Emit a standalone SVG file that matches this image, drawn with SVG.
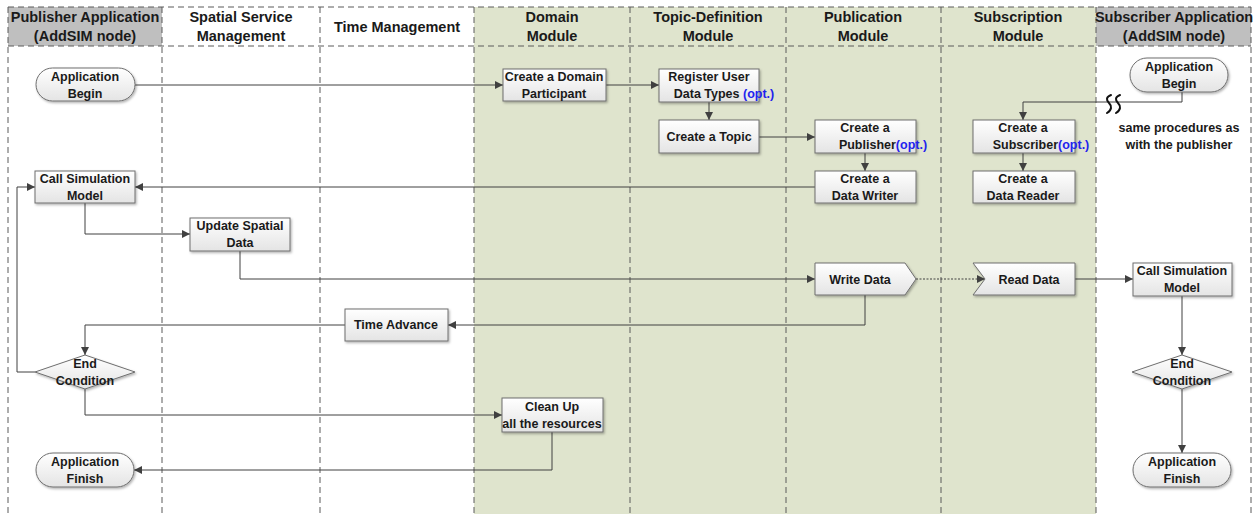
<svg xmlns="http://www.w3.org/2000/svg" width="1255" height="514" viewBox="0 0 1255 514">
  <defs>
    <linearGradient id="boxFill" x1="0" y1="0" x2="0" y2="1">
      <stop offset="0" stop-color="#ffffff"/>
      <stop offset="1" stop-color="#e4e4e4"/>
    </linearGradient>
    <filter id="shadow" x="-10%" y="-20%" width="125%" height="150%">
      <feDropShadow dx="1.2" dy="1.5" stdDeviation="0.8" flood-color="#000" flood-opacity="0.3"/>
    </filter>
    <marker id="arrow" viewBox="0 0 10 10" refX="10" refY="5" markerWidth="8" markerHeight="8" markerUnits="userSpaceOnUse" orient="auto">
      <path d="M0,0 L10,5 L0,10 Z" fill="#404040"/>
    </marker>
  </defs>
  <style>
    .lane-green { fill: #dfe4cd; }
    .head-grey { fill: #bfbfbf; }
    .sep { stroke: #5a5a5a; stroke-width: 1; stroke-dasharray: 6 4; fill: none; }
    .head { font-family: "Liberation Sans", Arial, sans-serif; font-weight: bold; font-size: 14.5px; fill: #1a1a1a; text-anchor: middle; }
    .box { fill: url(#boxFill); stroke: #6e6e6e; stroke-width: 1; filter: url(#shadow); }
    .lbl { font-family: "Liberation Sans", Arial, sans-serif; font-weight: bold; font-size: 12.5px; fill: #1a1a1a; text-anchor: middle; }
    .opt { fill: #2222ee; }
    .conn { stroke: #404040; stroke-width: 1; fill: none; }
    .arr { marker-end: url(#arrow); }
    .dotted { stroke-dasharray: 2 1.5; }
    .brk { stroke: #111111; stroke-width: 2; fill: none; stroke-linecap: round; }
  </style>

  <!-- swimlane backgrounds -->
  <g id="lanes">
    <rect x="0" y="0" width="1255" height="514" fill="#ffffff"/>
    <rect class="lane-green" x="474" y="7" width="622" height="507"/>
    <rect class="head-grey" x="8" y="7" width="154" height="39"/>
    <rect class="head-grey" x="1096" y="7" width="155" height="39"/>
    <line class="sep" x1="8" y1="7" x2="1251" y2="7"/>
    <line class="sep" x1="8" y1="46" x2="1251" y2="46"/>
    <line class="sep" x1="8" y1="7" x2="8" y2="514"/>
    <line class="sep" x1="162" y1="7" x2="162" y2="514"/>
    <line class="sep" x1="320" y1="7" x2="320" y2="514"/>
    <line class="sep" x1="474" y1="7" x2="474" y2="514"/>
    <line class="sep" x1="630" y1="7" x2="630" y2="514"/>
    <line class="sep" x1="786" y1="7" x2="786" y2="514"/>
    <line class="sep" x1="941" y1="7" x2="941" y2="514"/>
    <line class="sep" x1="1096" y1="7" x2="1096" y2="514"/>
    <line class="sep" x1="1251" y1="7" x2="1251" y2="514"/>
    <text class="head" x="85" y="22">Publisher Application</text>
    <text class="head" x="85" y="41">(AddSIM node)</text>
    <text class="head" x="241" y="22">Spatial Service</text>
    <text class="head" x="241" y="41">Management</text>
    <text class="head" x="397" y="32">Time Management</text>
    <text class="head" x="552" y="22">Domain</text>
    <text class="head" x="552" y="41">Module</text>
    <text class="head" x="708" y="22">Topic-Definition</text>
    <text class="head" x="708" y="41">Module</text>
    <text class="head" x="863" y="22">Publication</text>
    <text class="head" x="863" y="41">Module</text>
    <text class="head" x="1018" y="22">Subscription</text>
    <text class="head" x="1018" y="41">Module</text>
    <text class="head" x="1174" y="22">Subscriber Application</text>
    <text class="head" x="1174" y="41">(AddSIM node)</text>
  </g>

  <!-- connectors -->
  <g id="connectors">
    <path class="conn arr" d="M135,85 H503"/>
    <path class="conn arr" d="M606,85 H659"/>
    <path class="conn arr" d="M709,102 V120"/>
    <path class="conn arr" d="M759,137 H815"/>
    <path class="conn arr" d="M865,153 V171"/>
    <path class="conn arr" d="M815,187 H135"/>
    <path class="conn arr" d="M85,203 V234 H190"/>
    <path class="conn arr" d="M240,251 V279 H815"/>
    <path class="conn arr dotted" d="M916,279 H985"/>
    <path class="conn arr" d="M1075,279 H1133"/>
    <path class="conn arr" d="M865,295 V325 H448"/>
    <path class="conn arr" d="M345,325 H85 V355"/>
    <path class="conn arr" d="M35,372 H17 V187 H35"/>
    <path class="conn arr" d="M85,389 V415 H502"/>
    <path class="conn arr" d="M552,432 V470 H134"/>
    <path class="conn arr" d="M1182,92 V102 H1023 V120"/>
    <path class="conn arr" d="M1023,153 V171"/>
    <path class="conn arr" d="M1182,296 V355"/>
    <path class="conn arr" d="M1182,389 V453"/>
    <!-- break marks on the subscriber link -->
    <path class="brk" d="M1111,95 C1106,97 1106,100 1109,103 C1112,106 1112,110 1107,113"/>
    <path class="brk" d="M1120,95 C1115,97 1115,100 1118,103 C1121,106 1121,110 1116,113"/>
  </g>

  <!-- publisher application -->
  <g id="pub-begin">
    <rect class="box" x="36" y="68" width="99" height="33" rx="16.5"/>
    <text class="lbl" x="85" y="81">Application</text>
    <text class="lbl" x="85" y="98">Begin</text>
  </g>
  <g id="pub-call-sim">
    <rect class="box" x="35" y="171" width="100" height="32"/>
    <text class="lbl" x="85" y="183">Call Simulation</text>
    <text class="lbl" x="85" y="200">Model</text>
  </g>
  <g id="pub-end-cond">
    <polygon class="box" points="85,355 135,372 85,389 35,372"/>
    <text class="lbl" x="85" y="368">End</text>
    <text class="lbl" x="85" y="385">Condition</text>
  </g>
  <g id="pub-finish">
    <rect class="box" x="36" y="453" width="98" height="34" rx="17"/>
    <text class="lbl" x="85" y="466">Application</text>
    <text class="lbl" x="85" y="483">Finish</text>
  </g>

  <!-- spatial service management -->
  <g id="update-spatial">
    <rect class="box" x="190" y="218" width="100" height="33"/>
    <text class="lbl" x="240" y="230">Update Spatial</text>
    <text class="lbl" x="240" y="247">Data</text>
  </g>

  <!-- time management -->
  <g id="time-advance">
    <rect class="box" x="345" y="309" width="103" height="32"/>
    <text class="lbl" x="396" y="329">Time Advance</text>
  </g>

  <!-- domain module -->
  <g id="domain-participant">
    <rect class="box" x="503" y="69" width="103" height="32"/>
    <text class="lbl" x="554" y="81">Create a Domain</text>
    <text class="lbl" x="554" y="98">Participant</text>
  </g>
  <g id="clean-up">
    <rect class="box" x="502" y="398" width="101" height="34"/>
    <text class="lbl" x="552" y="411">Clean Up</text>
    <text class="lbl" x="552" y="428">all the resources</text>
  </g>

  <!-- topic-definition module -->
  <g id="register-types">
    <rect class="box" x="659" y="69" width="100" height="33"/>
    <text class="lbl" x="709" y="81">Register User</text>
    <text class="lbl" x="724" y="98">Data Types <tspan class="opt">(opt.)</tspan></text>
  </g>
  <g id="create-topic">
    <rect class="box" x="659" y="120" width="100" height="33"/>
    <text class="lbl" x="709" y="141">Create a Topic</text>
  </g>

  <!-- publication module -->
  <g id="create-publisher">
    <rect class="box" x="815" y="120" width="101" height="33"/>
    <text class="lbl" x="865" y="132">Create a</text>
    <text class="lbl" x="883" y="149">Publisher<tspan class="opt">(opt.)</tspan></text>
  </g>
  <g id="create-writer">
    <rect class="box" x="815" y="171" width="101" height="32"/>
    <text class="lbl" x="865" y="183">Create a</text>
    <text class="lbl" x="865" y="200">Data Writer</text>
  </g>
  <g id="write-data">
    <polygon class="box" points="815,263 905,263 916,279 905,295 815,295"/>
    <text class="lbl" x="860" y="284">Write Data</text>
  </g>

  <!-- subscription module -->
  <g id="create-subscriber">
    <rect class="box" x="973" y="120" width="102" height="33"/>
    <text class="lbl" x="1023" y="132">Create a</text>
    <text class="lbl" x="1041" y="149">Subscriber<tspan class="opt">(opt.)</tspan></text>
  </g>
  <g id="create-reader">
    <rect class="box" x="973" y="171" width="102" height="32"/>
    <text class="lbl" x="1023" y="183">Create a</text>
    <text class="lbl" x="1023" y="200">Data Reader</text>
  </g>
  <g id="read-data">
    <polygon class="box" points="973,263 1075,263 1075,295 973,295 985,279"/>
    <text class="lbl" x="1029" y="284">Read Data</text>
  </g>

  <!-- subscriber application -->
  <g id="sub-begin">
    <rect class="box" x="1130" y="58" width="98" height="34" rx="17"/>
    <text class="lbl" x="1179" y="71">Application</text>
    <text class="lbl" x="1179" y="88">Begin</text>
  </g>
  <g id="sub-note">
    <text class="lbl" x="1179" y="132">same procedures as</text>
    <text class="lbl" x="1179" y="149">with the publisher</text>
  </g>
  <g id="sub-call-sim">
    <rect class="box" x="1133" y="263" width="99" height="33"/>
    <text class="lbl" x="1182" y="275">Call Simulation</text>
    <text class="lbl" x="1182" y="292">Model</text>
  </g>
  <g id="sub-end-cond">
    <polygon class="box" points="1182,355 1232,372 1182,389 1132,372"/>
    <text class="lbl" x="1182" y="368">End</text>
    <text class="lbl" x="1182" y="385">Condition</text>
  </g>
  <g id="sub-finish">
    <rect class="box" x="1133" y="453" width="98" height="34" rx="17"/>
    <text class="lbl" x="1182" y="466">Application</text>
    <text class="lbl" x="1182" y="483">Finish</text>
  </g>
</svg>
